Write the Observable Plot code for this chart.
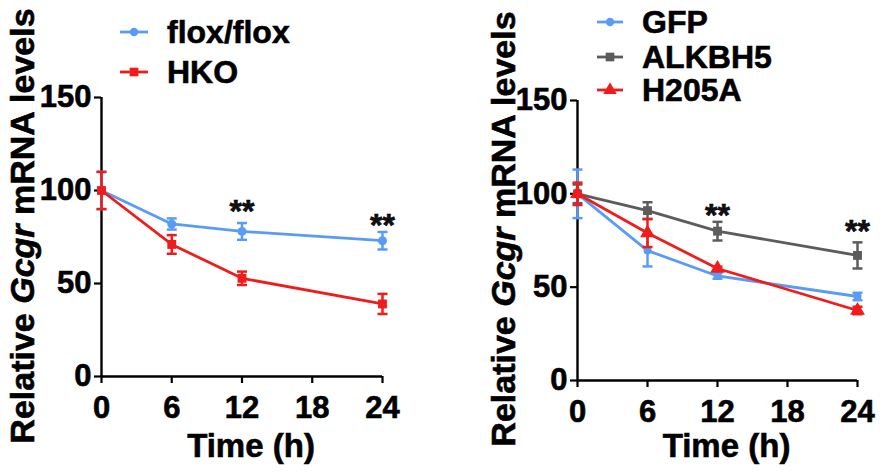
<!DOCTYPE html>
<html><head><meta charset="utf-8">
<script src="https://cdn.jsdelivr.net/npm/d3@7"></script>
<script src="https://cdn.jsdelivr.net/npm/@observablehq/plot@0.6"></script>
<style>
html,body{margin:0;padding:0;background:#fff;}
#wrap{position:relative;width:884px;height:474px;font-family:"Liberation Sans",Arial,sans-serif;font-weight:bold;overflow:hidden;}
#wrap text{stroke:#000;stroke-width:0.6px;}
.panel{position:absolute;top:0;}
#legend{position:absolute;left:0;top:0;pointer-events:none;}
</style></head><body>
<div id="wrap"><div id="p1" class="panel" style="left:0"></div><div id="p2" class="panel" style="left:442px"></div></div>
<script>
// ---- data ----
const times = [0, 6, 12, 24];
const xTicks = [0, 6, 12, 18, 24];
const yTicks = [0, 50, 100, 150];
const xLabel = "Time (h)";
const yLabelParts = ["Relative ", "Gcgr", " mRNA levels"];

const leftNames = ["flox/flox", "HKO"];
const floxMean = [100, 82, 78, 73];
const floxErr  = [10, 3, 4.5, 4.7];
const hkoMean  = [100, 71, 52.8, 39];
const hkoErr   = [10, 5, 3.6, 5.4];
const leftStarTimes = [12, 24];
const leftStarY = [93, 85.5];

const rightNames = ["GFP", "ALKBH5", "H205A"];
const gfpMean  = [100, 69.6, 56, 45];
const gfpErr   = [13, 8.5, 1.5, 2];
const alkMean  = [100, 91, 80, 67];
const alkErr   = [5, 4.5, 5, 7];
const h205Mean = [100, 79, 60, 37.5];
const h205Err  = [6, 7.5, 1, 2];
const rightStarTimes = [12, 24];
const rightStarY = [92.7, 84];

const BLUE = "#5a9cf5", RED = "#f01c1c", GRAY = "#5c5c5c";
const FONT = '"Liberation Sans", Arial, sans-serif';

const capSymbol = {draw(ctx, size) { const w = Math.sqrt(size / Math.PI); ctx.moveTo(-w, 0); ctx.lineTo(w, 0); }};

function rows(mean, err) { return times.map((t, i) => ({t, m: mean[i], e: err[i]})); }

function seriesMarks(mean, err, color, symbol, r) {
  const d = rows(mean, err);
  return [
    Plot.ruleX(d, {x: "t", y1: q => q.m - q.e, y2: q => q.m + q.e, stroke: color, strokeWidth: 2.5}),
    Plot.dot(d, {x: "t", y: q => q.m + q.e, symbol: capSymbol, r: 5, stroke: color, fill: "none", strokeWidth: 2.5}),
    Plot.dot(d, {x: "t", y: q => q.m - q.e, symbol: capSymbol, r: 5, stroke: color, fill: "none", strokeWidth: 2.5}),
    Plot.line(d, {x: "t", y: "m", stroke: color, strokeWidth: 2.8}),
    Plot.dot(d, {x: "t", y: "m", symbol, r, fill: color, stroke: "none"})
  ];
}

function makePanel(m, series, starTimes, starY, xlabDy) {
  const stars = starTimes.map((t, i) => ({t, y: starY[i]}));
  const p = Plot.plot({
    width: 442, height: 474,
    marginLeft: m.l, marginRight: m.r, marginTop: m.t, marginBottom: m.b,
    x: {domain: [0, 24]},
    y: {domain: [0, 150]},
    style: {fontFamily: FONT, fontWeight: "bold", fontSize: "31px", color: "#000", background: "transparent", overflow: "visible"},
    marks: [
      Plot.axisX({ticks: xTicks, tickSize: 7, tickPadding: 12, strokeWidth: 2.2, fontSize: 31, label: null}),
      Plot.axisY({ticks: yTicks, tickSize: 7, tickPadding: 3, strokeWidth: 2.2, fontSize: 31, label: null}),
      Plot.ruleY([0], {stroke: "#000", strokeWidth: 2.4}),
      Plot.ruleX([0], {stroke: "#000", strokeWidth: 2.4}),
      ...series.flat(),
      Plot.text(stars, {x: "t", y: "y", text: () => "**", fontSize: 32, dy: 8, fill: "#111"}),
      Plot.text([xLabel], {frameAnchor: "bottom", lineAnchor: "middle", dy: xlabDy, dx: 9, fontSize: 33, text: d => d})
    ]
  });
  return p;
}

function addYLabel(svgNode, x, y) {
  const t = d3.select(svgNode).append("text")
    .attr("transform", `translate(${x},${y}) rotate(-90)`)
    .attr("text-anchor", "middle").attr("dominant-baseline", "central")
    .attr("font-size", 34).attr("font-weight", "bold").attr("font-family", FONT).attr("fill", "#000");
  t.append("tspan").text(yLabelParts[0]);
  t.append("tspan").attr("font-style", "italic").text(yLabelParts[1]);
  t.append("tspan").text(yLabelParts[2]);
}

const left = makePanel({l: 101, r: 60, t: 97, b: 98}, [
  seriesMarks(floxMean, floxErr, BLUE, "circle", 4.5),
  seriesMarks(hkoMean, hkoErr, RED, "square", 5)
], leftStarTimes, leftStarY, 70);
document.getElementById("p1").append(left);
addYLabel(left, 22, 226);

const right = makePanel({l: 135, r: 27, t: 100, b: 94}, [
  seriesMarks(gfpMean, gfpErr, BLUE, "circle", 4),
  seriesMarks(alkMean, alkErr, GRAY, "square", 5),
  seriesMarks(h205Mean, h205Err, RED, "triangle", 5.5)
], rightStarTimes, rightStarY, 66);
document.getElementById("p2").append(right);
addYLabel(right, 61, 229);

// ---- legends ----
const lg = d3.select("#wrap").append("svg").attr("id", "legend").attr("width", 884).attr("height", 474);
function legend(names, colors, symbols, rowsY, x1, x2, tx) {
  names.forEach((n, i) => {
    const y = rowsY[i], c = colors[i], cx = (x1 + x2) / 2;
    lg.append("line").attr("x1", x1).attr("x2", x2).attr("y1", y).attr("y2", y).attr("stroke", c).attr("stroke-width", 2.8);
    const sym = symbols[i] === "circle" ? d3.symbolCircle : symbols[i] === "square" ? d3.symbolSquare : d3.symbolTriangle;
    const size = symbols[i] === "circle" ? 55 : symbols[i] === "square" ? 75 : 80;
    lg.append("path").attr("d", d3.symbol(sym, size)()).attr("transform", `translate(${cx},${y})`).attr("fill", c);
    lg.append("text").attr("x", tx).attr("y", y).attr("dominant-baseline", "central")
      .attr("font-size", 32).attr("font-weight", "bold").attr("font-family", FONT).attr("fill", "#000").text(n);
  });
}
legend(leftNames, [BLUE, RED], ["circle", "square"], [32, 72], 120, 148, 167);
legend(rightNames, [BLUE, GRAY, RED], ["circle", "square", "triangle"], [22, 57, 90], 597, 623, 642);
</script>
</body></html>
